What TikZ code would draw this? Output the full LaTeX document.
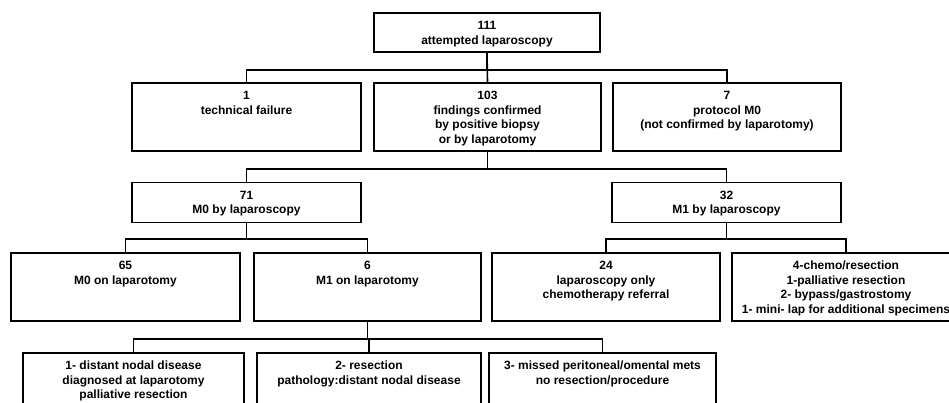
\documentclass[tikz,border=0pt]{standalone}
\usepackage{fontspec}
\setmainfont{Liberation Sans}
\newcommand\bxt[3]{\parbox[c][#2pt][t]{#1pt}{\centering\vspace*{6.5pt}\strut #3}}
\tikzset{
  box/.style={draw=black, line width=1.6pt, inner sep=0pt, font=\bfseries\fontsize{12}{14.5}\selectfont},
  link/.style={draw=black, line width=1.6pt}
}
\begin{document}
\begin{tikzpicture}[x=1pt,y=-1pt]
\clip (0,0) rectangle (949,402);
\fill[white] (0,0) rectangle (949,402);
% row 1
\node[box] (top) at (487,32.5) {\bxt{226}{39}{111\\attempted laparoscopy}};
% row 2
\node[box] (fail) at (246.5,117) {\bxt{229}{68}{1\\technical failure}};
\node[box] (conf) at (487.5,117) {\bxt{227}{68}{103\\findings confirmed\\by positive biopsy\\or by laparotomy}};
\node[box] (prot) at (727,117) {\bxt{228}{68}{7\\protocol M0\\(not confirmed by laparotomy)}};
% row 3
\node[box] (mzero) at (246.5,202.5) {\bxt{229}{40}{71\\M0 by laparoscopy}};
\node[box] (mone) at (726.5,202.5) {\bxt{229}{40}{32\\M1 by laparoscopy}};
% row 4
\node[box] (sixtyfive) at (125.5,287) {\bxt{229}{68}{65\\M0 on laparotomy}};
\node[box] (six) at (367.5,287) {\bxt{227}{68}{6\\M1 on laparotomy}};
\node[box] (lapo) at (606,287) {\bxt{228}{68}{24\\laparoscopy only\\chemotherapy referral}};
\node[box] (chemo) at (846,287) {\bxt{228}{68}{4-chemo/resection\\1-palliative resection\\2- bypass/gastrostomy\\1- mini- lap for additional specimens}};
% row 5
\node[box] (nodal) at (133.5,387) {\bxt{221}{68}{1- distant nodal disease\\diagnosed at laparotomy\\palliative resection}};
\node[box] (resec) at (369,387) {\bxt{224}{68}{2- resection\\pathology:distant nodal disease}};
\node[box] (missed) at (602.5,387) {\bxt{227}{68}{3- missed peritoneal/omental mets\\no resection/procedure}};
% bars
\coordinate (b1) at (0,70);
\coordinate (b2) at (0,169);
\coordinate (b3) at (0,239);
\coordinate (b4) at (0,339);
% connectors
\draw[link] (top.south) -- (top.south |- b1) -| (fail.north);
\draw[link] (top.south) -- (top.south |- b1) -| (prot.north);
\draw[link] (top.south) -- (conf.north);
\draw[link] (conf.south) -- (conf.south |- b2) -| (mzero.north);
\draw[link] (conf.south) -- (conf.south |- b2) -| (mone.north);
\draw[link] (mzero.south) -- (mzero.south |- b3) -| (sixtyfive.north);
\draw[link] (mzero.south) -- (mzero.south |- b3) -| (six.north);
\draw[link] (mone.south) -- (mone.south |- b3) -| (lapo.north);
\draw[link] (mone.south) -- (mone.south |- b3) -| (chemo.north);
\draw[link] (six.south) -- (six.south |- b4) -| (nodal.north);
\draw[link] (six.south) -- (six.south |- b4) -| (resec.north);
\draw[link] (six.south) -- (six.south |- b4) -| (missed.north);
\end{tikzpicture}
\end{document}
